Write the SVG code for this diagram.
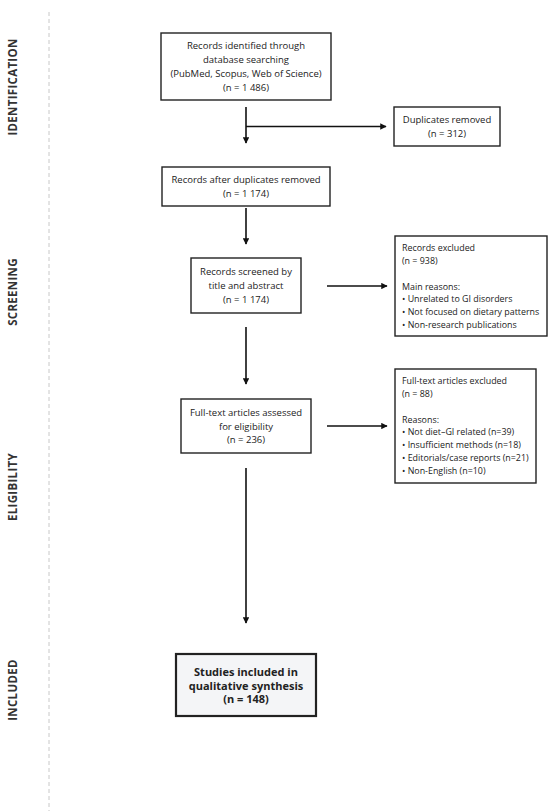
<svg xmlns="http://www.w3.org/2000/svg" width="550" height="811" viewBox="0 0 550 811">
<style>
.box{fill:#fff;stroke:#222;stroke-width:1.4}
.final{fill:#f4f5f7;stroke:#222;stroke-width:2.2}
.t{font-family:"Open Sans","Noto Sans",sans-serif;font-size:9.5px;fill:#222}
.s{font-size:8.9px}
.c{text-anchor:middle}
.b{font-weight:bold;font-size:11px}
.lab{font-family:"Open Sans","Noto Sans",sans-serif;font-size:11.5px;font-weight:bold;fill:#333;text-anchor:middle;letter-spacing:0.3px}
.ln{stroke:#111;stroke-width:1.6;fill:none}
</style>
<defs>
<marker id="ah" viewBox="0 0 10 10" refX="9" refY="5" markerWidth="4" markerHeight="4" orient="auto">
<path d="M0,0 L10,5 L0,10 z" fill="#111"/>
</marker>
</defs>
<rect width="550" height="811" fill="#fff"/>
<line x1="49" y1="12" x2="49" y2="811" stroke="#c8c8c8" stroke-width="1" stroke-dasharray="4,3"/>
<g id="stages">
<text class="lab" transform="translate(17,87) rotate(-90)">IDENTIFICATION</text>
<text class="lab" transform="translate(17,292) rotate(-90)">SCREENING</text>
<text class="lab" transform="translate(17,487) rotate(-90)">ELIGIBILITY</text>
<text class="lab" transform="translate(17,690) rotate(-90)">INCLUDED</text>
</g>
<g id="n1">
<rect class="box" x="161" y="33" width="170" height="67"/>
<text class="t c" x="246" y="48.5">Records identified through</text>
<text class="t c" x="246" y="62.5">database searching</text>
<text class="t c" x="246" y="76.5">(PubMed, Scopus, Web of Science)</text>
<text class="t c" x="246" y="90.5">(n = 1 486)</text>
</g>
<g id="n2">
<rect class="box" x="394" y="107" width="106" height="39"/>
<text class="t c" x="447" y="122.5">Duplicates removed</text>
<text class="t c" x="447" y="136.5">(n = 312)</text>
</g>
<g id="n3">
<rect class="box" x="162" y="167" width="168" height="39"/>
<text class="t c" x="246" y="182.5">Records after duplicates removed</text>
<text class="t c" x="246" y="196.5">(n = 1 174)</text>
</g>
<g id="n4">
<rect class="box" x="191" y="258" width="110" height="55"/>
<text class="t c" x="246" y="275">Records screened by</text>
<text class="t c" x="246" y="289">title and abstract</text>
<text class="t c" x="246" y="303">(n = 1 174)</text>
</g>
<g id="n5">
<rect class="box" x="395" y="236" width="152" height="100"/>
<text class="t s" x="402" y="250.5">Records excluded</text>
<text class="t s" x="402" y="263.5">(n = 938)</text>
<text class="t s" x="402" y="289.5">Main reasons:</text>
<text class="t s" x="402" y="301.5">• Unrelated to GI disorders</text>
<text class="t s" x="402" y="314.5">• Not focused on dietary patterns</text>
<text class="t s" x="402" y="327.5">• Non-research publications</text>
</g>
<g id="n6">
<rect class="box" x="181" y="399" width="130" height="54"/>
<text class="t c" x="246" y="415.5">Full-text articles assessed</text>
<text class="t c" x="246" y="429.5">for eligibility</text>
<text class="t c" x="246" y="442.5">(n = 236)</text>
</g>
<g id="n7">
<rect class="box" x="395" y="369" width="141" height="114"/>
<text class="t s" x="402" y="383.5">Full-text articles excluded</text>
<text class="t s" x="402" y="396.5">(n = 88)</text>
<text class="t s" x="402" y="422.5">Reasons:</text>
<text class="t s" x="402" y="434.5">• Not diet–GI related (n=39)</text>
<text class="t s" x="402" y="447.5">• Insufficient methods (n=18)</text>
<text class="t s" x="402" y="460.5">• Editorials/case reports (n=21)</text>
<text class="t s" x="402" y="473.5">• Non-English (n=10)</text>
</g>
<g id="n8">
<rect class="final" x="176" y="654" width="140" height="62"/>
<text class="t c b" x="246" y="676">Studies included in</text>
<text class="t c b" x="246" y="689.5">qualitative synthesis</text>
<text class="t c b" x="246" y="703">(n = 148)</text>
</g>
<g id="connectors">
<line class="ln" x1="246" y1="107" x2="246" y2="143" marker-end="url(#ah)"/>
<line class="ln" x1="246" y1="126.5" x2="386" y2="126.5" marker-end="url(#ah)"/>
<line class="ln" x1="246" y1="208" x2="246" y2="244" marker-end="url(#ah)"/>
<line class="ln" x1="327" y1="286" x2="387" y2="286" marker-end="url(#ah)"/>
<line class="ln" x1="246" y1="327" x2="246" y2="384" marker-end="url(#ah)"/>
<line class="ln" x1="327" y1="426" x2="387" y2="426" marker-end="url(#ah)"/>
<line class="ln" x1="246" y1="468" x2="246" y2="623" marker-end="url(#ah)"/>
</g>
</svg>
